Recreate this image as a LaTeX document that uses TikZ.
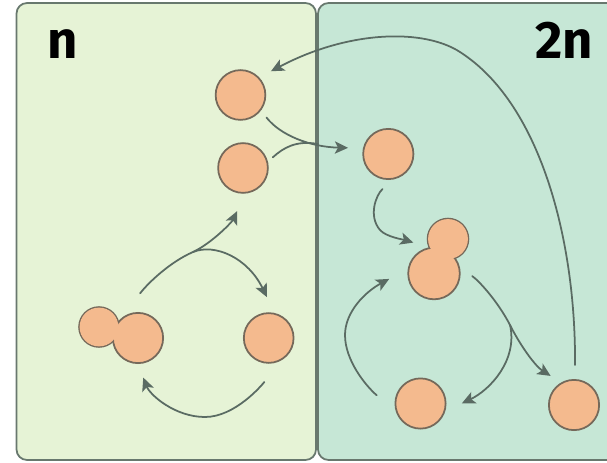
\documentclass[tikz,border=0pt]{standalone}
\usepackage{fontspec}
\setmainfont{Fira Sans}
\usetikzlibrary{arrows.meta}
\definecolor{panelA}{HTML}{E6F3D6}
\definecolor{panelB}{HTML}{C6E7D6}
\definecolor{panelEdge}{HTML}{68786E}
\definecolor{peach}{HTML}{F4BA8E}
\definecolor{peachEdge}{HTML}{75695A}
\definecolor{flowCol}{HTML}{5A6B63}
\tikzset{
    panel/.style={draw=panelEdge, line width=1pt, rounded corners=6pt},
    cell/.style={circle, draw=peachEdge, fill=peach, line width=1pt, inner sep=0pt, minimum size=#1},
    flow/.style={draw=flowCol, line width=1pt, line cap=round},
    tag/.style={font=\bfseries\fontsize{30}{30}\selectfont, anchor=base, inner sep=0pt}
}
\begin{document}
\begin{tikzpicture}[x=0.02cm, y=-0.02cm, >={Stealth[length=7.5pt,width=7pt,inset=1.8pt]}]
    \useasboundingbox (0,0) rectangle (607,462);
    \clip (0,0) rectangle (607,462);
    % the two compartments
    \draw[panel, fill=panelA] (16.5,3) rectangle (316,460);
    \draw[panel, fill=panelB] (318,3) rectangle (640,460);
    \node[tag] (tagN) at (63,59) {n};
    \node[tag] (tagTwoN) at (564,59) {2n};
    % single cells
    \node[cell=0.995cm] (top) at (240.5,95) {};
    \node[cell=0.995cm] (mid) at (243,168) {};
    \node[cell=0.995cm] (leftB) at (268.7,338) {};
    \node[cell=1.005cm] (rightA) at (388.3,154) {};
    \node[cell=1.005cm] (rightC) at (420.5,403.5) {};
    \node[cell=1.005cm] (rightD) at (574,405) {};
    % budding cells, the bud is filled again to hide the body's outline
    \node[cell=0.796cm] (budL) at (99,327) {};
    \node[cell=1.005cm] (bodyL) at (138,338) {};
    \fill[peach] (budL.center) circle (0.388cm);
    \node[cell=0.816cm] (budR) at (448,239) {};
    \node[cell=1.032cm] (bodyR) at (434,273.5) {};
    \fill[peach] (budR.center) circle (0.398cm);
    % forks where two curves share a line
    \coordinate (forkL) at (193,252);
    \coordinate (forkT) at (318,144);
    \coordinate (forkR) at (510,325);
    % left cycle
    \draw[flow, ->, shorten <=17.7pt, shorten >=11pt] (bodyL.130) .. controls (148,283) and (170,262) .. (forkL) .. controls (212,243) and (232,222) .. (mid.-85);
    \draw[flow, ->, shorten >=10pt] (forkL) .. controls (215,243) and (248,258) .. (leftB.77);
    \draw[flow, ->, shorten <=15.3pt, shorten >=8.3pt] (leftB.-62) .. controls (262,385) and (235,417) .. (205,417) .. controls (175,417) and (150,395) .. (bodyL.-90);
    % across the wall
    \draw[flow, ->, shorten <=5pt, shorten >=8.5pt] (top.-37) .. controls (280,135) and (310,147) .. (rightA.167);
    \draw[flow, shorten <=3.7pt] (mid.14) .. controls (283,148) and (296,140) .. (forkT);
    % right cycle
    \draw[flow, ->, shorten <=8pt, shorten >=9pt] (rightA.-80) .. controls (376,195) and (368,216) .. (380,230) .. controls (386,237) and (405,240) .. (budR.203);
    \draw[flow, ->, shorten <=8.3pt, shorten >=7pt] (bodyR.12) .. controls (478,280) and (497,300) .. (forkR) .. controls (520,345) and (535,366) .. (rightD.120);
    \draw[flow, ->, shorten >=10.4pt] (forkR) .. controls (518,360) and (490,390) .. (rightC.-17);
    \draw[flow, ->, shorten <=14.7pt, shorten >=12pt] (rightC.200) .. controls (365,385) and (345,360) .. (345,335) .. controls (345,312) and (365,292) .. (bodyR.170);
    % long way back
    \draw[flow, ->, shorten <=8pt, shorten >=7.5pt] (rightD.88) .. controls (576,240) and (540,100) .. (456.7,50) .. controls (418,28) and (345,32) .. (top.43);
\end{tikzpicture}
\end{document}
